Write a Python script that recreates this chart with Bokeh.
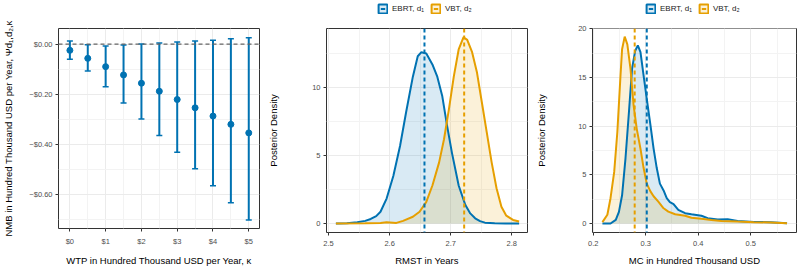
import numpy as np
from bokeh.plotting import figure
from bokeh.layouts import row, column
from bokeh.models import (Range1d, FixedTicker, Span, Whisker, TeeHead,
                          ColumnDataSource, Legend, LegendItem)
from bokeh.embed import file_html
from bokeh.resources import INLINE

BLUE = "#0072B2"
ORANGE = "#E69F00"
FONT = "Liberation Sans"

# ---------------- Panel 1: net monetary benefit ----------------
wtp = [0, 0.5, 1, 1.5, 2, 2.5, 3, 3.5, 4, 4.5, 5]
nmb_mean = [-0.025, -0.057, -0.090, -0.123, -0.156, -0.188, -0.221, -0.254, -0.287, -0.320, -0.354]
nmb_lo = [-0.061, -0.107, -0.170, -0.235, -0.299, -0.364, -0.431, -0.497, -0.565, -0.632, -0.701]
nmb_hi = [0.012, -0.003, -0.008, -0.004, 0.000, 0.004, 0.008, 0.012, 0.015, 0.021, 0.025]
wtp_ticks = [0, 1, 2, 3, 4, 5]
wtp_minor = [0.5, 1.5, 2.5, 3.5, 4.5]
wtp_labels = ["$0", "$1", "$2", "$3", "$4", "$5"]
nmb_ticks = [0.0, -0.2, -0.4, -0.6]
nmb_minor = [-0.1, -0.3, -0.5, -0.7]
nmb_labels = ["$0.00", "\u2212$0.20", "\u2212$0.40", "\u2212$0.60"]

# ---------------- Panel 2: RMST posterior densities ----------------
rmst_ebrt_x = [2.512, 2.530, 2.547, 2.560, 2.569, 2.578, 2.585, 2.595, 2.606, 2.617, 2.627,
               2.638, 2.646, 2.652, 2.660, 2.670, 2.678, 2.686, 2.694, 2.702, 2.713, 2.724,
               2.732, 2.740, 2.748, 2.756, 2.772, 2.790, 2.812]
rmst_ebrt_y = [0.0, 0.02, 0.1, 0.2, 0.34, 0.55, 0.87, 1.84, 3.5, 5.7, 8.2,
               10.8, 12.3, 12.6, 12.5, 11.7, 10.8, 9.4, 7.2, 5.2, 2.8, 1.36,
               0.75, 0.39, 0.18, 0.07, 0.02, 0.0, 0.0]
rmst_vbt_x = [2.512, 2.560, 2.585, 2.595, 2.611, 2.622, 2.638, 2.649, 2.660, 2.670, 2.681,
              2.689, 2.697, 2.705, 2.713, 2.721, 2.727, 2.735, 2.743, 2.751, 2.759, 2.767,
              2.775, 2.783, 2.791, 2.802, 2.812]
rmst_vbt_y = [0.0, 0.02, 0.05, 0.1, 0.05, 0.2, 0.5, 0.87, 1.6, 2.8, 4.5,
              6.2, 8.4, 10.8, 12.8, 13.7, 13.5, 12.6, 11.1, 8.9, 6.7, 4.5,
              2.6, 1.24, 0.58, 0.27, 0.15]
rmst_mean_ebrt = 2.657
rmst_mean_vbt = 2.722
rmst_xticks = [2.5, 2.6, 2.7, 2.8]
rmst_xminor = [2.55, 2.65, 2.75]
rmst_yticks = [0, 5, 10]
rmst_yminor = [2.5, 7.5, 12.5]

# ---------------- Panel 3: MC posterior densities ----------------
mc_ebrt_x = [0.2176, 0.233, 0.243, 0.249, 0.255, 0.2615, 0.268, 0.274, 0.280, 0.285, 0.290,
             0.296, 0.302, 0.309, 0.315, 0.321, 0.327, 0.334, 0.340, 0.346, 0.353, 0.362,
             0.375, 0.387, 0.406, 0.418, 0.437, 0.456, 0.475, 0.506, 0.538, 0.569]
mc_ebrt_y = [0.0, 0.0, 0.37, 1.2, 2.9, 6.7, 11.4, 15.9, 17.75, 18.3, 17.6,
             15.2, 12.8, 10.1, 7.7, 5.7, 4.1, 3.4, 2.6, 2.2, 2.0, 1.4,
             1.06, 0.95, 0.8, 0.55, 0.41, 0.44, 0.27, 0.17, 0.14, 0.03]
mc_vbt_x = [0.2176, 0.227, 0.233, 0.240, 0.246, 0.252, 0.255, 0.260, 0.265, 0.271, 0.277,
            0.283, 0.290, 0.296, 0.302, 0.309, 0.315, 0.324, 0.334, 0.343, 0.356, 0.375,
            0.387, 0.406, 0.425, 0.444, 0.475, 0.506, 0.538, 0.569]
mc_vbt_y = [0.14, 0.9, 2.6, 5.3, 9.4, 15.2, 17.9, 19.2, 18.4, 15.9, 12.1,
            9.7, 7.7, 5.7, 4.1, 3.3, 2.8, 2.25, 1.57, 1.23, 0.95, 0.8,
            0.6, 0.48, 0.37, 0.27, 0.2, 0.14, 0.1, 0.03]
mc_mean_ebrt = 0.302
mc_mean_vbt = 0.279
mc_xticks = [0.2, 0.3, 0.4, 0.5]
mc_xminor = [0.25, 0.35, 0.45, 0.55]
mc_yticks = [0, 5, 10, 15, 20]
mc_yminor = [2.5, 7.5, 12.5, 17.5]

legend_labels = ["EBRT, d\u2081", "VBT, d\u2082"]

H = 268
TOP = 28
BOTTOM = 34
LEG_H = 16


def style(p, xt, xm, yt, ym, xlab=None, ylab=None, ylab_standoff=12):
    p.xaxis.ticker = FixedTicker(ticks=xt, minor_ticks=xm)
    p.yaxis.ticker = FixedTicker(ticks=yt, minor_ticks=ym)
    if xlab:
        p.xaxis.major_label_overrides = {t: l for t, l in zip(xt, xlab)}
    if ylab:
        p.yaxis.major_label_overrides = {t: l for t, l in zip(yt, ylab)}
    for g in (p.xgrid, p.ygrid):
        g.grid_line_color = "#EBEBEB"
        g.grid_line_width = 1
        g.minor_grid_line_color = "#F3F3F3"
        g.minor_grid_line_width = 1
    for ax in (p.xaxis, p.yaxis):
        ax.axis_line_color = None
        ax.major_tick_line_color = "#333333"
        ax.major_tick_out = 3
        ax.major_tick_in = 0
        ax.minor_tick_line_color = None
        ax.major_label_text_font = FONT
        ax.major_label_text_font_size = "7.5px"
        ax.major_label_text_color = "#4D4D4D"
        ax.axis_label_text_font = FONT
        ax.axis_label_text_font_size = "9.5px"
        ax.axis_label_text_font_style = "normal"
        ax.axis_label_text_color = "#000000"
    p.xaxis.major_label_standoff = 4
    p.yaxis.major_label_standoff = 2
    p.xaxis.axis_label_standoff = 6
    p.yaxis.axis_label_standoff = ylab_standoff
    p.outline_line_color = "#333333"
    p.outline_line_width = 1
    p.background_fill_color = "white"
    p.border_fill_color = "white"


def mkfig(width, height, top, xr, yr, left, right):
    return figure(width=width, height=height, x_range=Range1d(*xr), y_range=Range1d(*yr),
                  output_backend="svg", toolbar_location=None,
                  min_border_left=left, min_border_right=right,
                  min_border_top=top, min_border_bottom=BOTTOM)


# Panel 1
p1 = mkfig(265, H, TOP, (-0.318, 5.3), (-0.735, 0.062), 53, 6)
style(p1, wtp_ticks, wtp_minor, nmb_ticks, nmb_minor, wtp_labels, nmb_labels, 12)
p1.xaxis.axis_label = "WTP in Hundred Thousand USD per Year, \u03ba"
p1.yaxis.axis_label = "NMB in Hundred Thousand USD per Year, \u03a8d\u2081,d\u2082,\u03ba"
p1.add_layout(Span(location=0, dimension="width", line_color="#666666",
                   line_width=1.2, line_dash="4 3"))
src1 = ColumnDataSource(dict(x=wtp, m=nmb_mean, lo=nmb_lo, hi=nmb_hi))
p1.add_layout(Whisker(source=src1, base="x", upper="hi", lower="lo",
                      line_color=BLUE, line_width=2,
                      upper_head=TeeHead(size=6, line_color=BLUE, line_width=1.5),
                      lower_head=TeeHead(size=6, line_color=BLUE, line_width=1.5)))
p1.scatter("x", "m", source=src1, size=6, color=BLUE)


def legend_fig(width, offset):
    # a strip above the density panel that only carries its legend
    lf = figure(width=width, height=LEG_H, x_range=Range1d(0, 1), y_range=Range1d(0, 1),
                x_axis_type=None, y_axis_type=None, output_backend="svg",
                toolbar_location=None, min_border=0, outline_line_color=None)
    lf.xgrid.visible = False
    lf.ygrid.visible = False
    items = []
    for col, lab in zip([BLUE, ORANGE], legend_labels):
        # key renderers hold one point outside the strip's visible range
        q = lf.quad(left=[5], right=[6], top=[6], bottom=[5], fill_color=col,
                    fill_alpha=0.15, line_color=col, line_width=2)
        d = lf.scatter(x=[5], y=[5], marker="dash", angle=np.pi / 2, line_color=col,
                       line_width=2, size=10)
        items.append(LegendItem(label=lab, renderers=[q, d]))
    leg = Legend(items=items, orientation="horizontal", location=(offset, 2),
                 glyph_width=11, glyph_height=11, label_text_font=FONT,
                 label_text_font_size="8px", label_text_color="#1A1A1A",
                 label_height=11, spacing=6, label_standoff=4, padding=0, margin=0,
                 border_line_color=None, background_fill_alpha=0)
    lf.add_layout(leg)
    return lf


def density_panel(width, xr, yr, left, right, ex, ey, vx, vy, em, vm, xt, xm, yt, ym,
                  xlabel, leg_x, ystand):
    p = mkfig(width, H - LEG_H, TOP - LEG_H, xr, yr, left, right)
    style(p, xt, xm, yt, ym, ylab_standoff=ystand)
    p.xaxis.axis_label = xlabel
    p.yaxis.axis_label = "Posterior Density"
    p.varea(x=ex, y1=0, y2=ey, fill_color=BLUE, fill_alpha=0.15)
    p.varea(x=vx, y1=0, y2=vy, fill_color=ORANGE, fill_alpha=0.15)
    p.line(ex, ey, line_color=BLUE, line_width=2)
    p.line(vx, vy, line_color=ORANGE, line_width=2)
    p.add_layout(Span(location=em, dimension="height", line_color=BLUE,
                      line_width=2, line_dash="4 3"))
    p.add_layout(Span(location=vm, dimension="height", line_color=ORANGE,
                      line_width=2, line_dash="4 3"))
    return column(legend_fig(width, leg_x), p)


p2 = density_panel(268, (2.4966, 2.8257), (-0.655, 14.34), 57, 6,
                   rmst_ebrt_x, rmst_ebrt_y, rmst_vbt_x, rmst_vbt_y,
                   rmst_mean_ebrt, rmst_mean_vbt,
                   rmst_xticks, rmst_xminor, rmst_yticks, rmst_yminor, "RMST in Years",
                   51, 30)
p3 = density_panel(264, (0.1987, 0.587), (-0.92, 20.03), 57, 1,
                   mc_ebrt_x, mc_ebrt_y, mc_vbt_x, mc_vbt_y,
                   mc_mean_ebrt, mc_mean_vbt,
                   mc_xticks, mc_xminor, mc_yticks, mc_yminor, "MC in Hundred Thousand USD",
                   53, 28)

layout = row(p1, p2, p3)
open("out.html", "w").write(file_html(layout, INLINE))
